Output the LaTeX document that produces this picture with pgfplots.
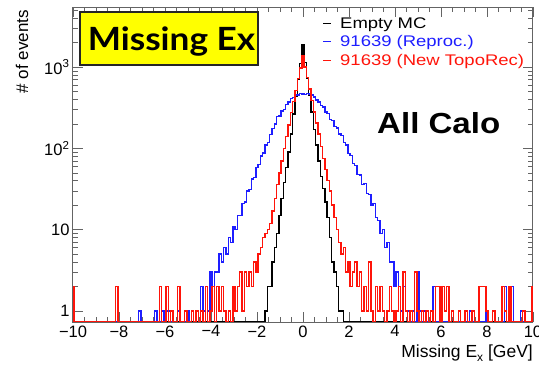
\documentclass[border=0pt]{standalone}
\usepackage{fontspec}
\setmainfont{Liberation Sans}
\newfontfamily\lato{Lato}
\usepackage{pgfplots}
\pgfplotsset{compat=1.18}
\usepackage{pgfplotstable}
\definecolor{hblue}{RGB}{30,30,255}
\definecolor{hred}{RGB}{255,20,10}
\definecolor{framec}{RGB}{100,100,100}
\definecolor{boxyellow}{RGB}{255,255,0}
\pgfplotstableread{
x k b r
-10.0 0 1 2
-9.9 0 0 0
-9.8 0 0 0
-9.7 0 0 0
-9.6 0 0 0
-9.5 0 0 0
-9.4 0 0 0
-9.3 0 0 0
-9.2 0 0 0
-9.1 0 0 0
-9.0 0 0 0
-8.9 0 0 0
-8.8 0 0 0
-8.7 0 0 0
-8.6 0 0 0
-8.5 0 0 0
-8.4 0 0 0
-8.3 0 0 0
-8.2 0 0 0
-8.1 0 0 2
-8.0 0 0 0
-7.9 0 0 0
-7.8 0 0 0
-7.7 0 0 0
-7.6 0 0 0
-7.5 0 0 0
-7.4 0 0 0
-7.3 0 0 0
-7.2 0 0 0
-7.1 0 1 0
-7.0 0 0 0
-6.9 0 0 0
-6.8 0 0 0
-6.7 0 0 0
-6.6 0 0 0
-6.5 0 0 0
-6.4 0 1 0
-6.3 0 0 0
-6.2 0 0 2
-6.1 0 1 0
-6.0 0 0 0
-5.9 0 1 2
-5.8 0 1 0
-5.7 0 0 1
-5.6 0 0 0
-5.5 0 0 0
-5.4 0 1 2
-5.3 0 0 0
-5.2 0 0 0
-5.1 0 0 1
-5.0 0 1 0
-4.9 0 0 0
-4.8 0 1 1
-4.7 0 0 0
-4.6 0 1 1
-4.5 0 0 0
-4.4 0 2 1
-4.3 0 1 0
-4.2 0 2 2
-4.1 0 1 0
-4.0 0 3 1
-3.9 0 2 2
-3.8 0 3 0
-3.7 0 3 2
-3.6 0 5 1
-3.5 0 4 2
-3.4 0 6 1
-3.3 0 5 0
-3.2 0 8 1
-3.1 0 7 0
-3.0 0 11 2
-2.9 0 10 1
-2.8 0 15 2
-2.7 0 15 3
-2.6 0 21 1
-2.5 0 22 3
-2.4 0 30 2
-2.3 0 31 3
-2.2 0 42 2
-2.1 0 44 4
-2.0 0 58 3
-1.9 0 63 5
-1.8 0 81 6
-1.7 0 88 8
-1.6 1 110 9
-1.5 2 118 10
-1.4 2 148 12
-1.3 4 175 17
-1.2 6 200 24
-1.1 9 245 36
-1.0 15 250 50
-0.9 24 288 70
-0.8 38 300 100
-0.7 58 345 140
-0.6 90 372 195
-0.5 150 410 275
-0.4 265 420 380
-0.3 440 452 520
-0.2 700 455 720
-0.1 1100 470 980
0.0 1900 468 1400
0.1 1150 462 1000
0.2 720 475 740
0.3 450 466 540
0.4 280 455 390
0.5 170 430 280
0.6 110 395 205
0.7 70 372 150
0.8 45 338 105
0.9 32 322 75
1.0 22 280 55
1.1 14 270 40
1.2 8 228 30
1.3 4 219 20
1.4 3 185 14
1.5 2 178 10
1.6 1 150 7
1.7 1 145 5
1.8 0 118 6
1.9 0 110 3
2.0 0 86 4
2.1 0 82 2
2.2 0 65 3
2.3 0 62 4
2.4 0 48 2
2.5 0 47 3
2.6 0 36 1
2.7 0 37 2
2.8 0 28 1
2.9 0 27 4
3.0 0 20 1
3.1 0 21 0
3.2 0 14 2
3.3 0 13 1
3.4 0 9 2
3.5 0 10 1
3.6 0 6 0
3.7 0 7 1
3.8 0 4 2
3.9 0 4 1
4.0 0 2 0
4.1 0 3 1
4.2 0 2 2
4.3 0 1 0
4.4 0 2 3
4.5 0 1 1
4.6 0 1 0
4.7 0 0 1
4.8 0 1 0
4.9 0 0 3
5.0 0 3 1
5.1 0 1 0
5.2 0 0 1
5.3 0 1 0
5.4 0 0 1
5.5 0 0 0
5.6 0 1 1
5.7 0 2 0
5.8 0 0 2
5.9 0 0 2
6.0 0 1 0
6.1 0 0 2
6.2 0 0 1
6.3 0 0 2
6.4 0 0 0
6.5 0 1 1
6.6 0 0 0
6.7 0 0 0
6.8 0 0 1
6.9 0 0 0
7.0 0 0 0
7.1 0 0 1
7.2 0 0 0
7.3 0 1 0
7.4 0 0 1
7.5 0 0 0
7.6 0 0 0
7.7 0 0 2
7.8 0 0 2
7.9 0 0 2
8.0 0 1 1
8.1 0 0 0
8.2 0 0 0
8.3 0 1 1
8.4 0 0 0
8.5 0 0 0
8.6 0 0 0
8.7 0 0 2
8.8 0 2 1
8.9 0 0 0
9.0 0 1 2
9.1 0 2 0
9.2 0 0 0
9.3 0 0 0
9.4 0 0 0
9.5 0 1 0
9.6 0 0 1
9.7 0 0 0
9.8 0 0 0
9.9 0 0 0
10.0 0 0 2
}\data

\begin{document}
\begin{tikzpicture}
\path[use as bounding box] (0pt,0pt) rectangle (539pt,368pt);
\begin{axis}[
  at={(73pt,46pt)}, anchor=south west,
  scale only axis, width=460pt, height=315pt,
  xmin=-10, xmax=10,
  ymode=log, ymin=0.73, ymax=5500,
  xtick={-10,-8,-6,-4,-2,0,2,4,6,8,10},
  xticklabels={−10,−8,−6,−4,−2,0,2,4,6,8,10},
  minor x tick num=3,
  ytick={1,10,100,1000},
  yticklabels={1,10,10\textsuperscript{2},10\textsuperscript{3}},
  minor ytick={2,3,4,5,6,7,8,9,20,30,40,50,60,70,80,90,200,300,400,500,600,700,800,900,2000,3000,4000,5000},
  tick align=inside,
  major tick length=10pt, minor tick length=5pt,
  axis line style={framec, line width=1pt},
  tick style={framec, line width=0.7pt},
  ticklabel style={font=\fontsize{16.5}{16.5}\selectfont},
  /pgf/number format/assume math mode=true,
]
\addplot[const plot mark mid, black, line width=1.4pt] table[x=x, y expr={max(\thisrow{k},0.745)}] {\data};
\addplot[const plot mark mid, hblue, line width=1.4pt] table[x=x, y expr={max(\thisrow{b},0.745)}] {\data};
\addplot[const plot mark mid, hred, line width=1.4pt] table[x=x, y expr={max(\thisrow{r},0.745)}] {\data};
\end{axis}
% title box
\draw[fill=boxyellow, draw=black!85, line width=1.5pt] (80pt,303pt) rectangle (258pt,356pt);
\node[anchor=base, inner sep=0] at (171.5pt,318pt) {\scalebox{1.1}[1]{\lato\bfseries\fontsize{32}{32}\selectfont Missing Ex}};
% All Calo
\node[anchor=base west, inner sep=0] at (377pt,235pt) {\scalebox{1.14}[1]{\bfseries\fontsize{29}{29}\selectfont All Calo}};
% legend
\draw[black, line width=1pt] (323pt,345pt) -- (331pt,345pt);
\draw[hblue, line width=1pt] (323pt,327pt) -- (331pt,327pt);
\draw[hred, line width=1pt] (323pt,308pt) -- (331pt,308pt);
\node[anchor=base west, inner sep=0] at (340pt,340pt) {\scalebox{1.2}[1]{\fontsize{15.4}{15.4}\selectfont Empty MC}};
\node[anchor=base west, inner sep=0, text=hblue] at (340pt,322pt) {\scalebox{1.2}[1]{\fontsize{15.4}{15.4}\selectfont 91639 (Reproc.)}};
\node[anchor=base west, inner sep=0, text=hred] at (340pt,303pt) {\scalebox{1.2}[1]{\fontsize{15.4}{15.4}\selectfont 91639 (New TopoRec)}};
% axis titles
\node[rotate=90, anchor=base east, inner sep=0, font=\fontsize{17}{17}\selectfont] at (28pt,358pt) {\# of events};
\node[anchor=base east, inner sep=0, font=\fontsize{17.5}{17.5}\selectfont] at (533pt,11pt) {Missing E\raisebox{-4pt}{\fontsize{12}{12}\selectfont x} [GeV]};
\end{tikzpicture}
\end{document}
